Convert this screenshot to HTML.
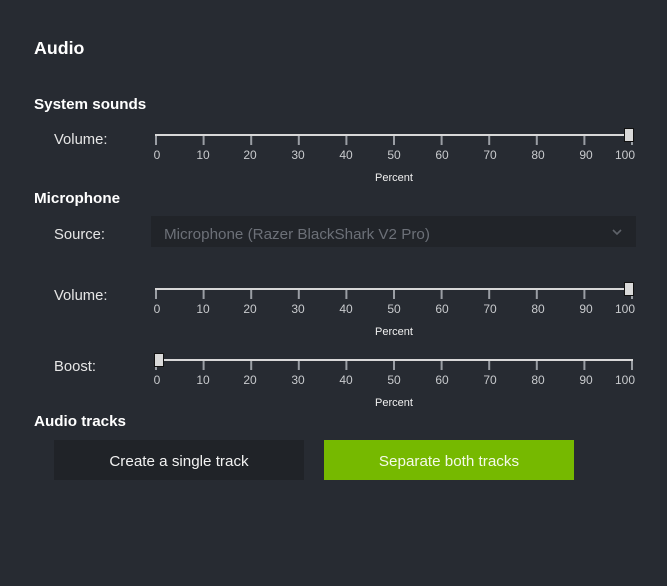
<!DOCTYPE html>
<html><head><meta charset="utf-8"><style>
html,body{margin:0;padding:0;background:#272b32;}
svg{display:block;font-family:"Liberation Sans",sans-serif;}
</style></head><body>
<svg width="667" height="586" viewBox="0 0 667 586" xmlns="http://www.w3.org/2000/svg">
<rect width="667" height="586" fill="#272b32"/>
<text x="34" y="54" font-size="17.8" font-weight="bold" fill="#fff">Audio</text>
<text x="34" y="109" font-size="15.2" font-weight="bold" fill="#fff">System sounds</text>
<text x="34" y="203" font-size="15.2" font-weight="bold" fill="#fff">Microphone</text>
<text x="34" y="426" font-size="15.2" font-weight="bold" fill="#fff">Audio tracks</text>
<g font-size="14.8" fill="#e6e6e6">
<text x="54" y="144">Volume:</text>
<text x="54" y="239">Source:</text>
<text x="54" y="300">Volume:</text>
<text x="54" y="371">Boost:</text>
</g>
<rect x="151" y="216" width="485" height="31" fill="#212429"/>
<text x="164" y="239" font-size="15.2" fill="#6c7078">Microphone (Razer BlackShark V2 Pro)</text>
<path d="M613 230 l4 4 l4 -4" stroke="#5f636a" stroke-width="1.6" fill="none"/>

<g>
<line x1="155" y1="135" x2="633" y2="135" stroke="#d8d8d8" stroke-width="2"/>
<g stroke="#9a9ea4" stroke-width="2">
<line x1="156" y1="136" x2="156" y2="145"/><line x1="203.6" y1="136" x2="203.6" y2="145"/><line x1="251.2" y1="136" x2="251.2" y2="145"/><line x1="298.8" y1="136" x2="298.8" y2="145"/><line x1="346.4" y1="136" x2="346.4" y2="145"/><line x1="394" y1="136" x2="394" y2="145"/><line x1="441.6" y1="136" x2="441.6" y2="145"/><line x1="489.2" y1="136" x2="489.2" y2="145"/><line x1="536.8" y1="136" x2="536.8" y2="145"/><line x1="584.4" y1="136" x2="584.4" y2="145"/><line x1="632" y1="136" x2="632" y2="145"/>
</g>
<g font-size="12" fill="#c8cacd" text-anchor="middle">
<text x="157" y="159">0</text><text x="203" y="159">10</text><text x="250" y="159">20</text><text x="298" y="159">30</text><text x="346" y="159">40</text><text x="394" y="159">50</text><text x="442" y="159">60</text><text x="490" y="159">70</text><text x="538" y="159">80</text><text x="586" y="159">90</text><text x="625" y="159">100</text>
</g>
<text x="394" y="181" font-size="11" fill="#f0f0f0" text-anchor="middle">Percent</text>
<rect x="624.5" y="128.5" width="9" height="13" fill="#d9d9d9" stroke="#111" stroke-width="1"/>
</g>

<g transform="translate(0,154)">
<line x1="155" y1="135" x2="633" y2="135" stroke="#d8d8d8" stroke-width="2"/>
<g stroke="#9a9ea4" stroke-width="2">
<line x1="156" y1="136" x2="156" y2="145"/><line x1="203.6" y1="136" x2="203.6" y2="145"/><line x1="251.2" y1="136" x2="251.2" y2="145"/><line x1="298.8" y1="136" x2="298.8" y2="145"/><line x1="346.4" y1="136" x2="346.4" y2="145"/><line x1="394" y1="136" x2="394" y2="145"/><line x1="441.6" y1="136" x2="441.6" y2="145"/><line x1="489.2" y1="136" x2="489.2" y2="145"/><line x1="536.8" y1="136" x2="536.8" y2="145"/><line x1="584.4" y1="136" x2="584.4" y2="145"/><line x1="632" y1="136" x2="632" y2="145"/>
</g>
<g font-size="12" fill="#c8cacd" text-anchor="middle">
<text x="157" y="159">0</text><text x="203" y="159">10</text><text x="250" y="159">20</text><text x="298" y="159">30</text><text x="346" y="159">40</text><text x="394" y="159">50</text><text x="442" y="159">60</text><text x="490" y="159">70</text><text x="538" y="159">80</text><text x="586" y="159">90</text><text x="625" y="159">100</text>
</g>
<text x="394" y="181" font-size="11" fill="#f0f0f0" text-anchor="middle">Percent</text>
<rect x="624.5" y="128.5" width="9" height="13" fill="#d9d9d9" stroke="#111" stroke-width="1"/>
</g>

<g transform="translate(0,225)">
<line x1="155" y1="135" x2="633" y2="135" stroke="#d8d8d8" stroke-width="2"/>
<g stroke="#9a9ea4" stroke-width="2">
<line x1="156" y1="136" x2="156" y2="145"/><line x1="203.6" y1="136" x2="203.6" y2="145"/><line x1="251.2" y1="136" x2="251.2" y2="145"/><line x1="298.8" y1="136" x2="298.8" y2="145"/><line x1="346.4" y1="136" x2="346.4" y2="145"/><line x1="394" y1="136" x2="394" y2="145"/><line x1="441.6" y1="136" x2="441.6" y2="145"/><line x1="489.2" y1="136" x2="489.2" y2="145"/><line x1="536.8" y1="136" x2="536.8" y2="145"/><line x1="584.4" y1="136" x2="584.4" y2="145"/><line x1="632" y1="136" x2="632" y2="145"/>
</g>
<g font-size="12" fill="#c8cacd" text-anchor="middle">
<text x="157" y="159">0</text><text x="203" y="159">10</text><text x="250" y="159">20</text><text x="298" y="159">30</text><text x="346" y="159">40</text><text x="394" y="159">50</text><text x="442" y="159">60</text><text x="490" y="159">70</text><text x="538" y="159">80</text><text x="586" y="159">90</text><text x="625" y="159">100</text>
</g>
<text x="394" y="181" font-size="11" fill="#f0f0f0" text-anchor="middle">Percent</text>
<rect x="154.5" y="128.5" width="9" height="13" fill="#d9d9d9" stroke="#111" stroke-width="1"/>
</g>

<rect x="54" y="440" width="250" height="40" fill="#202328"/>
<text x="179" y="466" font-size="15.2" fill="#f2f2f2" text-anchor="middle">Create a single track</text>
<rect x="324" y="440" width="250" height="40" fill="#76b900"/>
<text x="449" y="466" font-size="15.2" fill="#f4f9e8" text-anchor="middle">Separate both tracks</text>
</svg>
</body></html>
